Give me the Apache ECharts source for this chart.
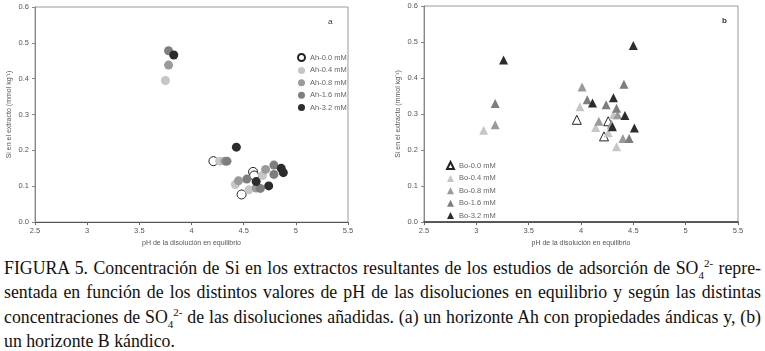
<!DOCTYPE html>
<html>
<head>
<meta charset="utf-8">
<script src="https://cdn.jsdelivr.net/npm/echarts@6/dist/echarts.min.js"></script>
<style>
body{margin:0;background:#fff;width:765px;height:351px;overflow:hidden;position:relative}
#chart{position:absolute;left:0;top:0;width:765px;height:252px}
#cap{position:absolute;left:4px;top:256px;width:757px;font-family:"Liberation Serif",serif;font-size:17.8px;color:#111}
#cap div{height:24.4px;line-height:24.4px;white-space:nowrap;text-align:justify;text-align-last:justify}
#cap div.last{text-align-last:left}
#cap sub,#cap sup{font-size:11px;line-height:0}
</style>
</head>
<body>
<div id="chart"></div>
<div id="cap">
<div>FIGURA 5. Concentración de Si en los extractos resultantes de los estudios de adsorción de SO<sub>4</sub><sup>2-</sup> repre-</div>
<div>sentada en función de los distintos valores de pH de las disoluciones en equilibrio y según las distintas</div>
<div>concentraciones de SO<sub>4</sub><sup>2-</sup> de las disoluciones añadidas. (a) un horizonte Ah con propiedades ándicas y, (b)</div>
<div class="last">un horizonte B kándico.</div>
</div>
<script>
// panel a: horizonte Ah  [pH, Si]
var ah00 = [[4.21,0.170],[4.59,0.140],[4.60,0.130],[4.48,0.077]];
var ah04 = [[3.75,0.395],[4.27,0.170],[4.42,0.105],[4.55,0.090],[4.68,0.130]];
var ah08 = [[3.78,0.438],[4.32,0.170],[4.45,0.115],[4.62,0.095],[4.71,0.147]];
var ah16 = [[3.78,0.478],[4.34,0.170],[4.53,0.120],[4.66,0.094],[4.79,0.159],[4.79,0.133]];
var ah32 = [[3.83,0.466],[4.43,0.209],[4.62,0.113],[4.74,0.101],[4.86,0.150],[4.88,0.138]];
// panel b: horizonte Bo
var bo00 = [[3.96,0.284],[4.26,0.280],[4.22,0.238]];
var bo04 = [[3.07,0.255],[3.99,0.320],[4.14,0.263],[4.26,0.248],[4.34,0.209],[4.31,0.298]];
var bo08 = [[3.18,0.270],[4.01,0.375],[4.17,0.280],[4.29,0.272],[4.35,0.298],[4.40,0.232]];
var bo16 = [[3.18,0.329],[4.06,0.340],[4.24,0.326],[4.34,0.316],[4.41,0.383],[4.46,0.232]];
var bo32 = [[3.26,0.450],[4.11,0.331],[4.31,0.345],[4.42,0.296],[4.50,0.490],[4.51,0.261],[4.30,0.265]];

var namesA = ['Ah-0.0 mM','Ah-0.4 mM','Ah-0.8 mM','Ah-1.6 mM','Ah-3.2 mM'];
var namesB = ['Bo-0.0 mM','Bo-0.4 mM','Bo-0.8 mM','Bo-1.6 mM','Bo-3.2 mM'];
var fills = ['#ffffff','#c6c6c6','#9a9a9a','#7e7e7e','#2c2c2c'];

var lab = {color:'#555',fontSize:7.5,fontFamily:'Liberation Sans'};

function xAx(idx, dark){
  return {gridIndex:idx,type:'value',min:2.5,max:5.5,interval:0.5,
    name:'pH de la disolución en equilibrio',nameLocation:'middle',nameGap:16,
    nameTextStyle:{color:'#555',fontSize:7,fontFamily:'Liberation Sans'},
    axisLine:{lineStyle:{color:dark?'#333':'#555',width:dark?1.6:1}},
    axisTick:{show:true,length:3,lineStyle:{color:'#666'}},
    axisLabel:Object.assign({margin:5},lab),splitLine:{show:false}};
}
function yAx(idx){
  return {gridIndex:idx,type:'value',min:0,max:0.6,interval:0.1,
    name:'Si en el extracto (mmol kg\u207B\u00B9)',nameLocation:'middle',nameGap:22,
    nameTextStyle:{color:'#555',fontSize:7,fontFamily:'Liberation Sans'},
    axisLine:{show:true,lineStyle:{color:'#888'}},
    axisTick:{show:true,length:3,lineStyle:{color:'#888'}},
    axisLabel:Object.assign({margin:6,formatter:function(v){return v.toFixed(1);}},lab),
    splitLine:{show:false}};
}

var seriesList = [];
[ah00,ah04,ah08,ah16,ah32].forEach(function(d,i){
  seriesList.push({name:namesA[i],type:'scatter',xAxisIndex:0,yAxisIndex:0,data:d,
    symbol:'circle',symbolSize:9,
    itemStyle:{color:fills[i],borderColor:i==0?'#222':fills[i],borderWidth:i==0?1:0,opacity:1}});
});
[bo00,bo04,bo08,bo16,bo32].forEach(function(d,i){
  seriesList.push({name:namesB[i],type:'scatter',xAxisIndex:1,yAxisIndex:1,data:d,
    symbol:'triangle',symbolSize:9,
    itemStyle:{color:fills[i],borderColor:i==0?'#222':fills[i],borderWidth:i==0?1:0,opacity:1}});
});

var chart = echarts.init(document.getElementById('chart'));
chart.setOption({
  animation:false,
  grid:[
    {left:35,top:7,width:313,height:216,show:true,borderColor:'#999',borderWidth:1},
    {left:424,top:6,width:314,height:220,show:true,borderColor:'#999',borderWidth:1}
  ],
  xAxis:[xAx(0,false),xAx(1,true)],
  yAxis:[yAx(0),yAx(1)],
  legend:[
    {data:namesA,orient:'vertical',left:292,top:48,itemWidth:7,itemHeight:7,itemGap:4.4,
      icon:'circle',textStyle:{color:'#666',fontSize:7.5,fontFamily:'Liberation Sans'}},
    {data:namesB,orient:'vertical',left:441,top:156,itemWidth:7,itemHeight:7,itemGap:4.4,
      icon:'triangle',textStyle:{color:'#666',fontSize:7.5,fontFamily:'Liberation Sans'}}
  ],
  graphic:[
    {type:'text',left:328,top:18,style:{text:'a',fill:'#333',font:'8px Liberation Sans'}},
    {type:'text',left:722,top:17,style:{text:'b',fill:'#333',font:'bold 8px Liberation Sans'}}
  ],
  series:seriesList
});
</script>
</body>
</html>
